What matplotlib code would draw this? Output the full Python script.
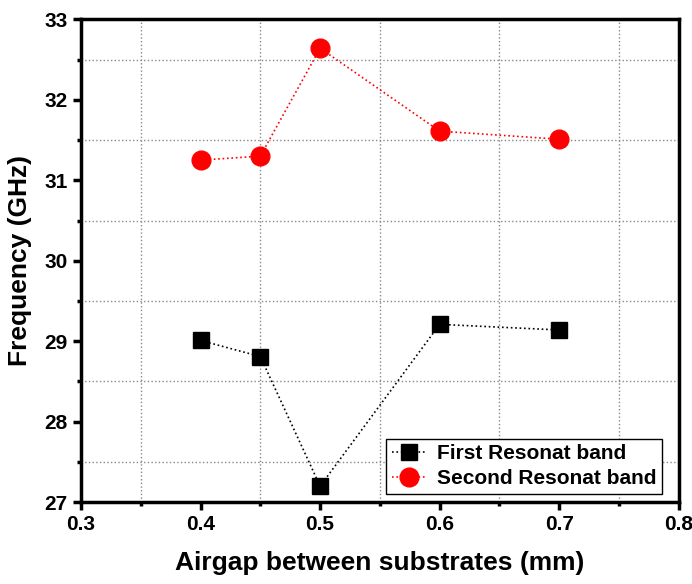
import matplotlib
matplotlib.use("Agg")
import matplotlib.pyplot as plt
from matplotlib.ticker import MultipleLocator

airgap = [0.4, 0.45, 0.5, 0.6, 0.7]
first_band = [29.01, 28.81, 27.20, 29.21, 29.14]
second_band = [31.25, 31.30, 32.64, 31.61, 31.51]

plt.rcParams["font.family"] = "Liberation Sans"
plt.rcParams["font.weight"] = "bold"

fig = plt.figure(figsize=(6.92, 5.84), dpi=100)
ax = fig.add_axes([0.117, 0.140, 0.864, 0.827])

ax.plot(airgap, first_band, ls=":", color="black", lw=1.2, marker="s",
        ms=11, label="First Resonat band")
ax.plot(airgap, second_band, ls=":", color="red", lw=1.2, marker="o",
        ms=13.5, label="Second Resonat band")

ax.set_xlim(0.3, 0.8)
ax.set_ylim(27, 33)
ax.xaxis.set_major_locator(MultipleLocator(0.1))
ax.xaxis.set_minor_locator(MultipleLocator(0.05))
ax.yaxis.set_major_locator(MultipleLocator(1))
ax.yaxis.set_minor_locator(MultipleLocator(0.5))
ax.grid(which="minor", ls=":", color="#888888", lw=1)

for s in ax.spines.values():
    s.set_linewidth(2.5)
ax.tick_params(which="major", direction="out", length=6, width=2.5,
               labelsize=15)
ax.tick_params(which="minor", direction="out", length=3, width=2.5)
ax.set_xticks([0.3, 0.4, 0.5, 0.6, 0.7, 0.8])
ax.set_xticklabels(["0.3", "0.4", "0.5", "0.6", "0.7", "0.8"])

ax.set_xlabel("Airgap between substrates (mm)", fontsize=19, fontweight="bold",
              labelpad=12)
ax.set_ylabel("Frequency (GHz)", fontsize=19, fontweight="bold", labelpad=9)

leg = ax.legend(loc="lower right", bbox_to_anchor=(0.972, 0.018), fontsize=15,
                fancybox=False, edgecolor="black", framealpha=1,
                handlelength=1.7, handletextpad=0.5, borderpad=0.25,
                labelspacing=0.3, borderaxespad=0)
leg.get_frame().set_linewidth(1)

fig.savefig("out.png", dpi=100)
